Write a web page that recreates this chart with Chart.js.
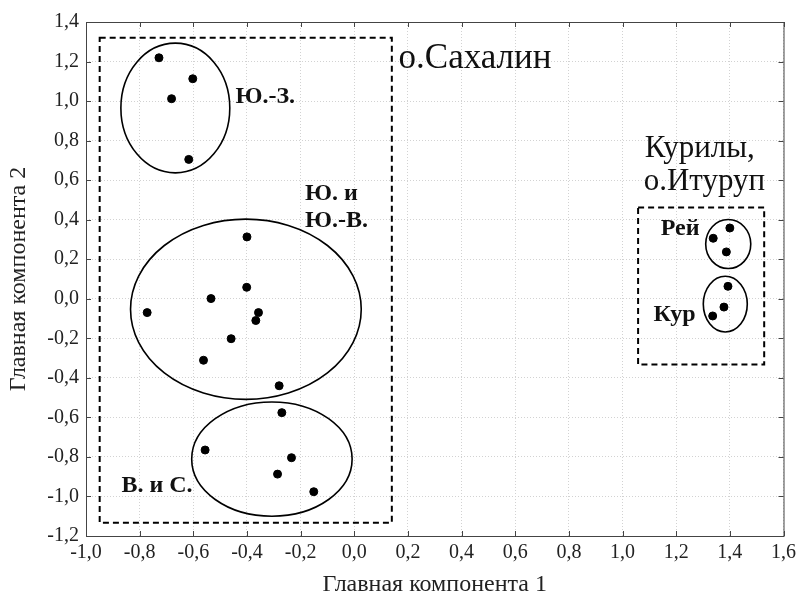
<!DOCTYPE html>
<html>
<head>
<meta charset="utf-8">
<script src="https://cdn.jsdelivr.net/npm/chart.js@4/dist/chart.umd.min.js"></script>
<style>
  html, body { margin: 0; padding: 0; background: #fff; }
  #wrap { width: 801px; height: 600px; }
</style>
</head>
<body>
<div id="wrap"><canvas id="myChart"></canvas></div>
<script>
// подписи делений
const xTickLabels = ['-1,0', '-0,8', '-0,6', '-0,4', '-0,2', '0,0', '0,2', '0,4', '0,6', '0,8', '1,0', '1,2', '1,4', '1,6'];
const yTickLabels = ['-1,2', '-1,0', '-0,8', '-0,6', '-0,4', '-0,2', '0,0', '0,2', '0,4', '0,6', '0,8', '1,0', '1,2', '1,4'];

// Сахалин: Ю.-З.
const swX = [-0.728, -0.602, -0.681, -0.617];
const swY = [1.219, 1.113, 1.012, 0.705];
// Сахалин: Ю. и Ю.-В.
const seX = [-0.400, -0.401, -0.534, -0.772, -0.357, -0.367, -0.459, -0.562];
const seY = [0.313, 0.058, 0.001, -0.070, -0.070, -0.110, -0.202, -0.311];
// Сахалин: В. и С.
const enX = [-0.280, -0.270, -0.556, -0.234, -0.286, -0.151];
const enY = [-0.440, -0.576, -0.765, -0.804, -0.887, -0.976];
// Курилы: Рей и Кур
const reyX = [1.400, 1.338, 1.387];
const reyY = [0.358, 0.306, 0.237];
const kurX = [1.393, 1.378, 1.336];
const kurY = [0.063, -0.042, -0.087];

// эллипсы групп (центр и полуоси в единицах осей)
const ellCX = [-0.667, -0.404, -0.307, 1.394, 1.383];
const ellCY = [0.965, -0.053, -0.811, 0.277, -0.027];
const ellRX = [0.203, 0.430, 0.299, 0.084, 0.082];
const ellRY = [0.328, 0.456, 0.289, 0.124, 0.141];

// пунктирные рамки
const boxX1 = [-0.949, 1.058];
const boxX2 = [0.140, 1.528];
const boxY1 = [1.320, 0.462];
const boxY2 = [-1.133, -0.333];

const pts = (xs, ys) => xs.map((x, i) => ({ x: x, y: ys[i] }));

const serif = '"Liberation Serif", "Times New Roman", serif';

const notes = [
	{ text: 'о.Сахалин', x: 0.165, y: 1.169, size: 35, bold: false },
	{ text: 'Ю.-З.', x: -0.443, y: 0.99, size: 24, bold: true },
	{ text: 'Ю. и', x: -0.184, y: 0.499, size: 24, bold: true },
	{ text: 'Ю.-В.', x: -0.184, y: 0.364, size: 24, bold: true },
	{ text: 'В. и С.', x: -0.868, y: -0.978, size: 24, bold: true },
	{ text: 'Курилы,', x: 1.083, y: 0.719, size: 31, bold: false },
	{ text: 'о.Итуруп', x: 1.079, y: 0.552, size: 31, bold: false },
	{ text: 'Рей', x: 1.142, y: 0.322, size: 24, bold: true },
	{ text: 'Кур', x: 1.115, y: -0.112, size: 24, bold: true }
];

// эллипсы, рамки, подписи и засечки рисуем через шкалы графика
const overlay = {
	id: 'overlay',
	beforeDatasetsDraw(chart) {
		const ctx = chart.ctx;
		const xs = chart.scales.x, ys = chart.scales.y;
		ctx.save();
		ctx.strokeStyle = '#000';
		ctx.lineWidth = 1.6;
		for (let i = 0; i < ellCX.length; i++) {
			const cx = xs.getPixelForValue(ellCX[i]);
			const cy = ys.getPixelForValue(ellCY[i]);
			const rx = Math.abs(xs.getPixelForValue(ellCX[i] + ellRX[i]) - cx);
			const ry = Math.abs(ys.getPixelForValue(ellCY[i] + ellRY[i]) - cy);
			ctx.beginPath();
			ctx.ellipse(cx, cy, rx, ry, 0, 0, Math.PI * 2);
			ctx.stroke();
		}
		ctx.lineWidth = 2;
		ctx.setLineDash([6, 4]);
		for (let i = 0; i < boxX1.length; i++) {
			const x1 = xs.getPixelForValue(boxX1[i]), x2 = xs.getPixelForValue(boxX2[i]);
			const y1 = ys.getPixelForValue(boxY1[i]), y2 = ys.getPixelForValue(boxY2[i]);
			ctx.strokeRect(x1, y1, x2 - x1, y2 - y1);
		}
		ctx.setLineDash([]);
		ctx.fillStyle = '#111';
		ctx.textBaseline = 'alphabetic';
		notes.forEach(n => {
			ctx.font = (n.bold ? 'bold ' : '') + n.size + 'px ' + serif;
			ctx.fillText(n.text, xs.getPixelForValue(n.x), ys.getPixelForValue(n.y));
		});
		ctx.restore();
	},
	afterDraw(chart) {
		const ctx = chart.ctx;
		const a = chart.chartArea;
		const xs = chart.scales.x, ys = chart.scales.y;
		ctx.save();
		ctx.strokeStyle = '#444';
		ctx.lineWidth = 1;
		ctx.strokeRect(a.left + 0.5, a.top + 0.5, a.right - a.left, a.bottom - a.top);
		ctx.beginPath();
		xs.ticks.forEach(t => {
			const p = Math.round(xs.getPixelForValue(t.value)) + 0.5;
			ctx.moveTo(p, a.bottom); ctx.lineTo(p, a.bottom - 5);
			ctx.moveTo(p, a.top); ctx.lineTo(p, a.top + 5);
		});
		ys.ticks.forEach(t => {
			const p = Math.round(ys.getPixelForValue(t.value)) + 0.5;
			ctx.moveTo(a.left, p); ctx.lineTo(a.left + 5, p);
			ctx.moveTo(a.right, p); ctx.lineTo(a.right - 5, p);
		});
		ctx.stroke();
		ctx.restore();
	}
};

const dotStyle = { backgroundColor: '#000', borderColor: '#000', pointRadius: 4, pointHoverRadius: 4 };

const ctx = document.getElementById('myChart').getContext('2d');
const myChart = new Chart(ctx, {
	type: 'scatter',
	data: {
		datasets: [
			{ label: 'Ю.-З.', data: pts(swX, swY), ...dotStyle },
			{ label: 'Ю. и Ю.-В.', data: pts(seX, seY), ...dotStyle },
			{ label: 'В. и С.', data: pts(enX, enY), ...dotStyle },
			{ label: 'Рей', data: pts(reyX, reyY), ...dotStyle },
			{ label: 'Кур', data: pts(kurX, kurY), ...dotStyle }
		]
	},
	options: {
		responsive: true,
		maintainAspectRatio: false,
		animation: false,
		layout: { padding: { top: 22, right: 15, left: 0, bottom: 0 } },
		plugins: {
			legend: { display: false },
			tooltip: { enabled: false }
		},
		scales: {
			x: {
				type: 'linear',
				min: -1,
				max: 1.6,
				afterFit: s => { s.height = 64; },
				ticks: {
					stepSize: 0.2,
					maxRotation: 0,
					padding: 5,
					color: '#222',
					font: { family: serif, size: 20 },
					callback: (v, i) => xTickLabels[i]
				},
				grid: { color: '#d2d2d2', lineWidth: 1, drawTicks: false },
				border: { display: false, dash: [1, 2] },
				title: {
					display: true,
					text: 'Главная компонента 1',
					color: '#222',
					font: { family: serif, size: 24 },
					padding: { top: 0, bottom: 1 }
				}
			},
			y: {
				type: 'linear',
				min: -1.2,
				max: 1.4,
				afterFit: s => { s.width = 86; },
				ticks: {
					stepSize: 0.2,
					padding: 7,
					color: '#222',
					font: { family: serif, size: 20 },
					callback: (v, i) => yTickLabels[i]
				},
				grid: { color: '#d2d2d2', lineWidth: 1, drawTicks: false },
				border: { display: false, dash: [1, 2] },
				title: {
					display: true,
					text: 'Главная компонента 2',
					color: '#222',
					font: { family: serif, size: 24 },
					padding: { top: 4, bottom: 0 }
				}
			}
		}
	},
	plugins: [overlay]
});
</script>
</body>
</html>
